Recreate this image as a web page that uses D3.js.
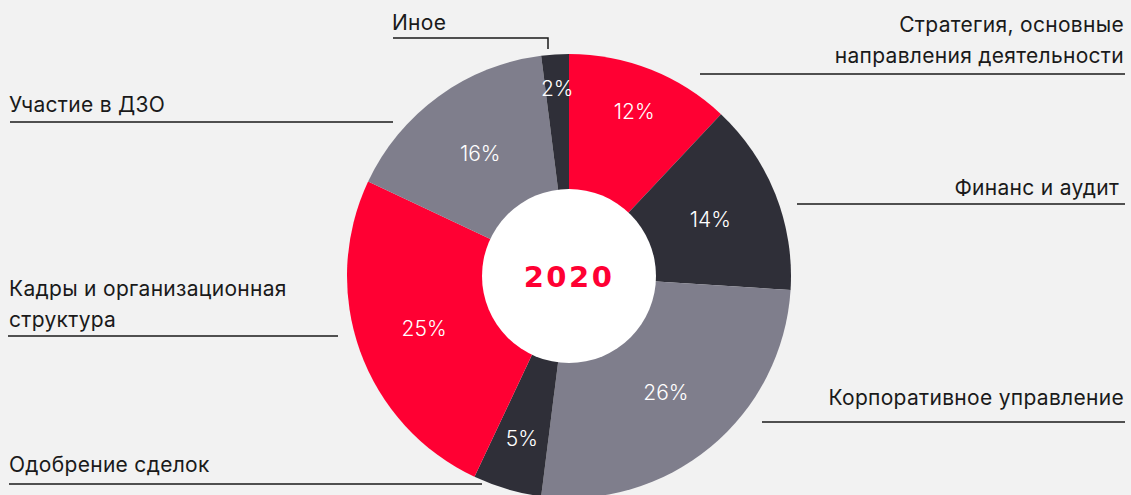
<!DOCTYPE html>
<html>
<head>
<meta charset="utf-8">
<script src="https://cdn.jsdelivr.net/npm/d3@7"></script>
<style>
  html, body { margin: 0; padding: 0; background: #f2f2f2; }
  svg { display: block; }
</style>
</head>
<body>
<div id="chart"></div>
<script>
// data
var categories = ["Стратегия, основные направления деятельности", "Финанс и аудит", "Корпоративное управление",
                  "Одобрение сделок", "Кадры и организационная структура", "Участие в ДЗО", "Иное"];
var values = [12, 14, 26, 5, 25, 16, 2];
var year = "2020";

var width = 1131, height = 495;
var cx = 569, cy = 276, outerR = 222, innerR = 87;
var colors = ["#ff0033", "#2f2f38", "#7f7e8c", "#2f2f38", "#ff0033", "#7f7e8c", "#2f2f38"];

// where the percent labels sit (radius from centre), small slices pushed out
var labelR = [177, 152, 152, 169, 154, 151, 188];

// annotation layout: text lines, anchor, baseline y, underline
var notes = [
  {lines: ["Стратегия, основные", "направления деятельности"], x: 1124, y: 32, anchor: "end", line: [700, 74, 1125, 74]},
  {lines: ["Финанс и аудит"], x: 1119, y: 195, anchor: "end", line: [797, 204, 1125, 204]},
  {lines: ["Корпоративное управление"], x: 1124, y: 405, anchor: "end", line: [762, 422, 1125, 422]},
  {lines: ["Одобрение сделок"], x: 9, y: 472, anchor: "start", line: [9, 484, 482, 484]},
  {lines: ["Кадры и организационная", "структура"], x: 9, y: 296, anchor: "start", line: [8, 336, 338, 336]},
  {lines: ["Участие в ДЗО"], x: 9, y: 112, anchor: "start", line: [10, 122, 393, 122]},
  {lines: ["Иное"], x: 392, y: 30, anchor: "start", line: [393, 38, 548, 38], tick: 49}
];

var svg = d3.select("#chart")
  .append("svg")
  .attr("width", width)
  .attr("height", height);

svg.append("rect").attr("width", width).attr("height", height).attr("fill", "#f2f2f2");

var pie = d3.pie().sort(null).value(function(d) { return d; });
var arcs = pie(values);

var arc = d3.arc().innerRadius(0).outerRadius(outerR);

var g = svg.append("g").attr("transform", "translate(" + cx + "," + cy + ")");

g.selectAll("path.slice")
  .data(arcs)
  .enter().append("path")
  .attr("class", "slice")
  .attr("d", arc)
  .attr("fill", function(d, i) { return colors[i]; });

g.append("circle")
  .attr("r", innerR)
  .attr("fill", "#ffffff");

g.selectAll("text.pct")
  .data(arcs)
  .enter().append("text")
  .attr("class", "pct")
  .attr("transform", function(d, i) {
    var a = (d.startAngle + d.endAngle) / 2;
    return "translate(" + (labelR[i] * Math.sin(a)) + "," + (-labelR[i] * Math.cos(a)) + ")";
  })
  .attr("text-anchor", "middle")
  .attr("dy", "0.35em")
  .style("font-family", "Inter, Roboto, sans-serif")
  .style("font-weight", "300")
  .style("font-size", "21px")
  .style("fill", "#ffffff")
  .text(function(d) { return d.data + "%"; });

g.append("text")
  .attr("text-anchor", "middle")
  .attr("y", 11)
  .style("font-family", "'DejaVu Sans', sans-serif")
  .style("font-weight", "bold")
  .style("font-size", "29px")
  .style("letter-spacing", "2.5px")
  .style("fill", "#ff0033")
  .text(year);

// annotations
var ann = svg.selectAll("g.note")
  .data(notes)
  .enter().append("g")
  .attr("class", "note");

ann.append("text")
  .attr("text-anchor", function(d) { return d.anchor; })
  .style("font-family", "Inter, Roboto, sans-serif")
  .style("font-size", "21px")
  .style("letter-spacing", "0.3px")
  .style("fill", "#1a1a1a")
  .each(function(d) {
    var t = d3.select(this);
    d.lines.forEach(function(l, k) {
      t.append("tspan")
        .attr("x", d.x)
        .attr("y", d.y + k * 31)
        .text(l);
    });
  });

ann.append("path")
  .attr("d", function(d) {
    var p = "M" + d.line[0] + "," + d.line[1] + "L" + d.line[2] + "," + d.line[3];
    if (d.tick) p += "L" + d.line[2] + "," + d.tick;
    return p;
  })
  .attr("fill", "none")
  .attr("stroke", "#1a1a1a")
  .attr("stroke-width", 1.5);
</script>
</body>
</html>
